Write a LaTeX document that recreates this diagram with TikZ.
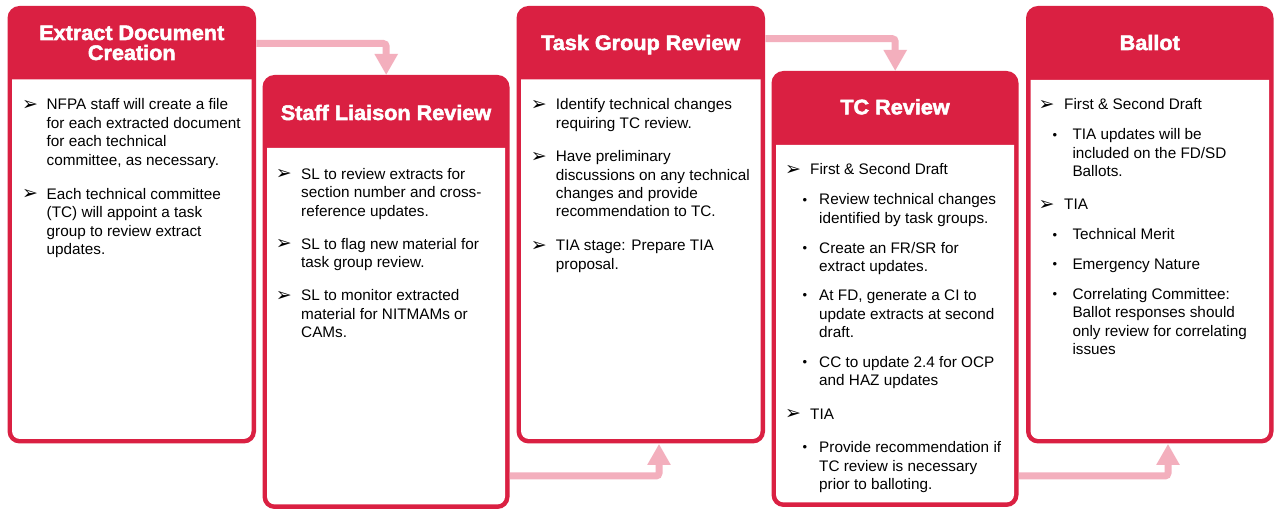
\documentclass[tikz,border=0pt]{standalone}
\usepackage{fontspec}
\setmainfont{Liberation Sans}
\newfontfamily\dvfont{DejaVu Sans}
\newfontfamily\hdfont[FakeBold=2.5,FakeStretch=1.03]{Liberation Sans Bold}
\usetikzlibrary{arrows.meta}
\definecolor{nfred}{RGB}{218,32,66}
\definecolor{nfpink}{RGB}{243,175,189}
\newcommand\bodyfont{\fontsize{15.3pt}{18.4pt}\selectfont}
\newcommand\arwsym{\raisebox{-0.6pt}{\dvfont\fontsize{19pt}{19pt}\selectfont ➢}}
\newcommand\dotsym{\raisebox{0.8pt}{\fontsize{13pt}{13pt}\selectfont •}}
\tikzset{
  conn/.style={draw=nfpink, line width=7pt, rounded corners=3pt, -{Triangle[width=22pt,length=21pt]}},
  headtxt/.style={text=white, font=\hdfont\fontsize{21pt}{20pt}\selectfont, inner sep=0pt, anchor=base},
  itxt/.style={inner sep=0pt, anchor=base west, font=\bodyfont},
}
% name, L, R, T, B, HB  (pixel coordinates, y downward)
\newcommand\stage[6]{%
  \fill[nfred, rounded corners=12pt] (#2,{510-#5}) rectangle (#3,{510-#4});
  \fill[white] (#2+4.5,{510-#6}) -- (#2+4.5,{510-#5+12.5})
    arc[start angle=180,end angle=270,radius=8pt] -- (#3-12.5,{510-#5+4.5})
    arc[start angle=270,end angle=360,radius=8pt] -- (#3-4.5,{510-#6}) -- cycle;
  \node[inner sep=0pt, minimum width={(#3-#2)*1pt}, minimum height={(#5-#4)*1pt}, anchor=north west] (#1) at (#2,{510-#4}) {};
}
% arrow item: name, bullet x, text x, baseline, text
\newcommand\aitem[5]{%
  \node[itxt] (#1s) at (#2,{510-#4}) {\arwsym};
  \node[itxt] (#1) at (#3,{510-#4}) {\parbox[t]{230pt}{\raggedright #5}};
}
% dot item
\newcommand\ditem[5]{%
  \node[itxt] (#1s) at (#2,{510-#4}) {\dotsym};
  \node[itxt] (#1) at (#3,{510-#4}) {\parbox[t]{230pt}{\raggedright #5}};
}
\begin{document}
\begin{tikzpicture}[x=1pt,y=1pt]
\fill[white] (0,0) rectangle (1274,510);
\useasboundingbox (0,0) rectangle (1274,510);

\stage{b1}{7.5}{256}{6}{443.5}{79.5}
\stage{b2}{262.5}{509.5}{75}{509}{148}
\stage{b3}{516.5}{765}{6}{443.5}{79.5}
\stage{b4}{771.5}{1018.5}{71}{507}{145}
\stage{b5}{1026}{1273.5}{6}{443.5}{80}

% connectors
\draw[conn] (b1.east |- 0,466.5) -| (b2.north);
\draw[conn] (b3.east |- 0,471.3) -| (b4.north);
\draw[conn] (b2.east |- 0,34) -| (b3.south -| 659,0);
\draw[conn] (b4.east |- 0,34) -| (b5.south -| 1168,0);

% headers
\node[headtxt] (h1) at (131.75,{510-40}) {\parbox[t]{240pt}{\centering Extract Document\\Creation}};
\node[headtxt] (h2) at (386,{510-120}) {Staff Liaison Review};
\node[headtxt] (h3) at (640.75,{510-50}) {Task Group Review};
\node[headtxt] (h4) at (895,{510-114.3}) {TC Review};
\node[headtxt] (h5) at (1149.75,{510-50}) {Ballot};

% box 1
\aitem{a1}{22}{46.5}{110}{NFPA staff will create a file\\for each extracted document\\for each technical\\committee, as necessary.}
\aitem{a2}{22}{46.5}{199.3}{Each technical committee\\(TC) will appoint a task\\group to review extract\\updates.}

% box 2
\aitem{c1}{275.7}{301}{179.3}{SL to review extracts for\\section number and cross-\\reference updates.}
\aitem{c2}{275.7}{301}{249.3}{SL to flag new material for\\task group review.}
\aitem{c3}{275.7}{301}{301}{SL to monitor extracted\\material for NITMAMs or\\CAMs.}

% box 3
\aitem{d1}{530.7}{555.7}{110}{Identify technical changes\\requiring TC review.}
\aitem{d2}{530.7}{555.7}{161.7}{Have preliminary\\discussions on any technical\\changes and provide\\recommendation to TC.}
\aitem{d3}{530.7}{555.7}{250.7}{TIA stage: Prepare TIA\\proposal.}

% box 4
\aitem{e1}{785}{810}{175}{First \& Second Draft}
\ditem{e2}{802.5}{819}{205}{Review technical changes\\identified by task groups.}
\ditem{e3}{802.5}{819}{253.3}{Create an FR/SR for\\extract updates.}
\ditem{e4}{802.5}{819}{300.7}{At FD, generate a CI to\\update extracts at second\\draft.}
\ditem{e5}{802.5}{819}{367.3}{CC to update 2.4 for OCP\\and HAZ updates}
\aitem{e6}{785}{810}{419.3}{TIA}
\ditem{e7}{802.5}{819}{452.7}{Provide recommendation if\\TC review is necessary\\prior to balloting.}

% box 5
\aitem{f1}{1038.3}{1064}{110}{First \& Second Draft}
\ditem{f2}{1052.5}{1072.3}{140}{TIA updates will be\\included on the FD/SD\\Ballots.}
\aitem{f3}{1038.3}{1064}{210}{TIA}
\ditem{f4}{1052.5}{1072.3}{240}{Technical Merit}
\ditem{f5}{1052.5}{1072.3}{269.3}{Emergency Nature}
\ditem{f6}{1052.5}{1072.3}{299.3}{Correlating Committee:\\Ballot responses should\\only review for correlating\\issues}
\end{tikzpicture}
\end{document}
